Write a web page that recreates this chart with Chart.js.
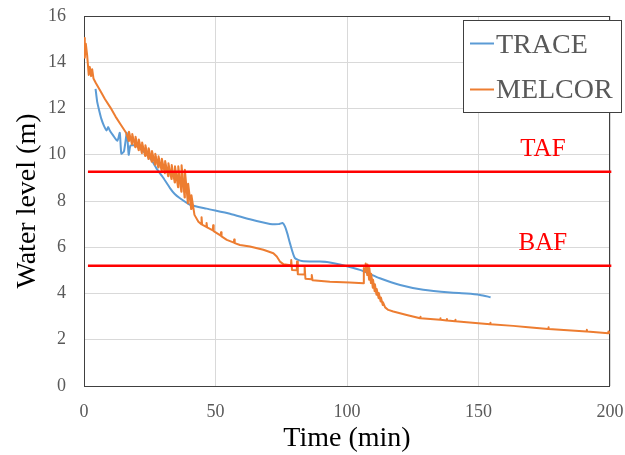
<!DOCTYPE html>
<html><head><meta charset="utf-8">
<script src="https://cdn.jsdelivr.net/npm/chart.js@4.4.1/dist/chart.umd.min.js"></script>
<style>html,body{margin:0;padding:0;background:#fff;} #wrap{width:625px;height:455px;position:relative;}</style>
</head><body><div id="wrap"><canvas id="c" width="625" height="455"></canvas></div>
<script>
// ---- data ----
const seriesNames = ['TRACE', 'MELCOR'];
const xTickStep = 50, xMin = 0, xMax = 200;
const yTickStep = 2, yMin = 0, yMax = 16;
const levelNames = ['TAF', 'BAF'];
const levelValues = [9.27, 5.2];
const levelSpan = [1.5, 200.5];
const levelLabelTime = 174.5;

const traceData = [
  [4.4,12.85],[5.0,12.3],[5.7,11.95],[6.6,11.55],[7.6,11.25],[8.6,11.05],[9.2,11.2],[9.8,11.05],
  [11,10.85],[12.7,10.6],[13.6,10.95],[14.2,10.05],[15.2,10.15],[16.3,10.95],[17.0,10.0],[17.7,10.4],
  [20,10.38],[23,10.1],[25.5,9.8],[27.6,9.4],[29.8,9.06],[32.7,8.56],[34.5,8.3],[36.5,8.12],[40.3,7.84],
  [46.6,7.67],[55.5,7.45],[63.1,7.21],[70.7,7.01],[74,7.0],[75.5,7.05],[76.4,6.9],[77.3,6.6],[78.3,6.18],
  [80.2,5.53],[82.8,5.41],[89.7,5.38],[93,5.35],[97.3,5.25],[104.9,5.02],[112.5,4.66],[120.2,4.37],
  [129,4.16],[139.2,4.04],[145.5,4.0],[150.6,3.94],[154.6,3.84]
];

const melcorData = [
  [0,15.05],[0.3,14.2],[0.7,14.8],[1.2,14.3],[1.8,13.45],[2.2,13.8],[2.7,13.4],[3.1,13.7],[3.6,13.3],
  [4.5,13.1],[6.3,12.75],[8,12.4],[10,12.05],[12,11.65],[14,11.3],[16,10.95],[17,10.6],
  [17.1,11.0],[18.25,10.45],[18.35,10.9],[19.5,10.32],[19.6,10.78],[20.75,10.2],[20.85,10.66],
  [22,10.07],[22.1,10.53],[23.25,9.95],[23.35,10.41],[24.5,9.82],[24.6,10.28],[25.75,9.7],[25.85,10.16],
  [27,9.57],[27.1,10.04],[28.25,9.45],[28.35,9.93],[29.5,9.32],[29.6,9.83],[30.75,9.2],[30.85,9.73],
  [32,9.07],[32.1,9.63],[33.25,8.95],[33.35,9.56],[34.5,8.8],[34.6,9.5],[35.75,8.6],[35.85,9.5],
  [37,8.4],[37.1,9.55],[38.25,8.15],[38.35,9.35],[39.5,7.9],[39.6,8.75],[40.75,7.65],[40.85,8.25],[42,7.4],
  [43.5,7.1],[44.6,7.0],[44.7,7.3],[44.9,6.98],[46.5,6.88],[46.6,7.05],[46.8,6.86],[49,6.73],[49.1,6.95],
  [49.3,6.7],[52,6.5],[52.1,6.65],[52.3,6.47],[54.3,6.32],[57,6.2],[57.1,6.33],[57.3,6.18],[59.3,6.1],
  [63.1,6.03],[68.2,5.89],[72,5.74],[73.3,5.6],[74.5,5.38],[75.8,5.27],[78.7,5.22],[78.8,5.45],[79.1,5.02],
  [80.9,5.0],[81.0,5.38],[81.3,4.83],[83.8,4.82],[83.9,5.16],[84.2,4.64],[86.5,4.62],[86.6,4.8],[86.9,4.57],
  [93.5,4.51],[101,4.48],[106.3,4.44],
  [106.4,5.1],[107.0,4.95],[107.1,5.3],[107.7,4.8],[107.8,5.25],[108.4,4.6],[108.5,5.1],[109.1,4.45],
  [109.2,4.85],[109.8,4.25],[109.9,4.6],[110.5,4.1],[110.6,4.4],[111.2,3.95],[111.3,4.2],[112.0,3.8],
  [112.1,4.02],[112.8,3.65],[112.9,3.83],[113.6,3.5],[113.7,3.62],[114.5,3.4],[115.7,3.29],[117.6,3.22],
  [122.7,3.07],[127.8,2.93],[127.9,3.0],[128,2.93],[135.4,2.86],[135.5,2.93],[135.6,2.86],[137.9,2.83],
  [138,2.9],[138.1,2.83],[141.1,2.8],[141.2,2.87],[141.3,2.8],[145.5,2.76],[154.4,2.67],[154.5,2.73],
  [154.6,2.67],[163.2,2.6],[168.9,2.54],[176.5,2.47],[176.6,2.54],[176.7,2.47],[191.1,2.36],[191.2,2.43],
  [191.3,2.36],[199.3,2.28],[199.4,2.36],[200,2.27]
];

// ---- styles ----
const SERIF = "'Liberation Serif', 'Times New Roman', serif";
const BLUE = '#5b9bd5', ORANGE = '#ed7d31', RED = '#ff0000';
const toXY = arr => arr.map(p => ({x: p[0], y: p[1]}));

const levelDatasets = levelNames.map((n, i) => ({
  label: n,
  data: levelSpan.map(t => ({x: t, y: levelValues[i]})),
  borderColor: RED, borderWidth: 2.5, pointRadius: 0, clip: false
}));

const extras = {
  id: 'extras',
  beforeDatasetsDraw(chart) {
    const {ctx, chartArea: a} = chart;
    ctx.save();
    ctx.strokeStyle = '#404040';
    ctx.lineWidth = 1;
    ctx.strokeRect(a.left + 0.5, a.top + 0.5, a.right - a.left - 1, a.bottom - a.top);
    ctx.restore();
  },
  afterDatasetsDraw(chart) {
    const {ctx, scales} = chart;
    ctx.save();
    ctx.fillStyle = RED;
    ctx.font = '25px ' + SERIF;
    ctx.textAlign = 'center';
    ctx.textBaseline = 'alphabetic';
    levelNames.forEach((n, i) => {
      ctx.fillText(n, scales.x.getPixelForValue(levelLabelTime), scales.y.getPixelForValue(levelValues[i]) - 16);
    });
    ctx.fillStyle = '#fff';
    ctx.fillRect(463, 20, 158, 92);
    ctx.strokeStyle = '#404040';
    ctx.lineWidth = 1;
    ctx.strokeRect(463.5, 20.5, 158, 92);
    const cols = [BLUE, ORANGE];
    const ys = [43.5, 89.5];
    const bys = [53, 98];
    ctx.font = '28px ' + SERIF;
    ctx.textAlign = 'left';
    seriesNames.forEach((n, i) => {
      ctx.strokeStyle = cols[i];
      ctx.lineWidth = 2;
      ctx.beginPath();
      ctx.moveTo(470, ys[i]); ctx.lineTo(494, ys[i]);
      ctx.stroke();
      ctx.fillStyle = '#595959';
      ctx.fillText(n, 496, bys[i]);
    });
    ctx.restore();
  }
};

new Chart(document.getElementById('c'), {
  type: 'line',
  data: {
    datasets: [
      ...levelDatasets,
      {label: seriesNames[1], data: toXY(melcorData), borderColor: ORANGE, borderWidth: 2, pointRadius: 0, tension: 0, borderJoinStyle: 'round'},
      {label: seriesNames[0], data: toXY(traceData), borderColor: BLUE, borderWidth: 2, pointRadius: 0, tension: 0.2, borderJoinStyle: 'round'}
    ]
  },
  options: {
    responsive: false,
    animation: false,
    devicePixelRatio: 1,
    layout: {padding: {top: 16, right: 15, left: 0, bottom: 0}},
    plugins: {legend: {display: false}, tooltip: {enabled: false}},
    scales: {
      x: {
        type: 'linear', min: xMin, max: xMax,
        ticks: {stepSize: xTickStep, color: '#595959', font: {family: SERIF, size: 18}, padding: 0, maxRotation: 0},
        grid: {color: '#d9d9d9', drawTicks: true, tickLength: 15, tickColor: 'rgba(0,0,0,0)'},
        border: {display: false},
        title: {display: true, text: 'Time (min)', color: '#000', font: {family: SERIF, size: 28}, padding: {top: 0, bottom: 0}},
        afterFit: s => { s.height = 69; }
      },
      y: {
        type: 'linear', min: yMin, max: yMax,
        ticks: {stepSize: yTickStep, color: '#595959', font: {family: SERIF, size: 18}, padding: 0},
        grid: {color: '#d9d9d9', drawTicks: true, tickLength: 18, tickColor: 'rgba(0,0,0,0)'},
        border: {display: false},
        title: {display: true, text: 'Water level (m)', color: '#000', font: {family: SERIF, size: 28}, padding: {top: 11, bottom: 0}},
        afterFit: s => { s.width = 84; }
      }
    }
  },
  plugins: [extras]
});
</script>
</body></html>
